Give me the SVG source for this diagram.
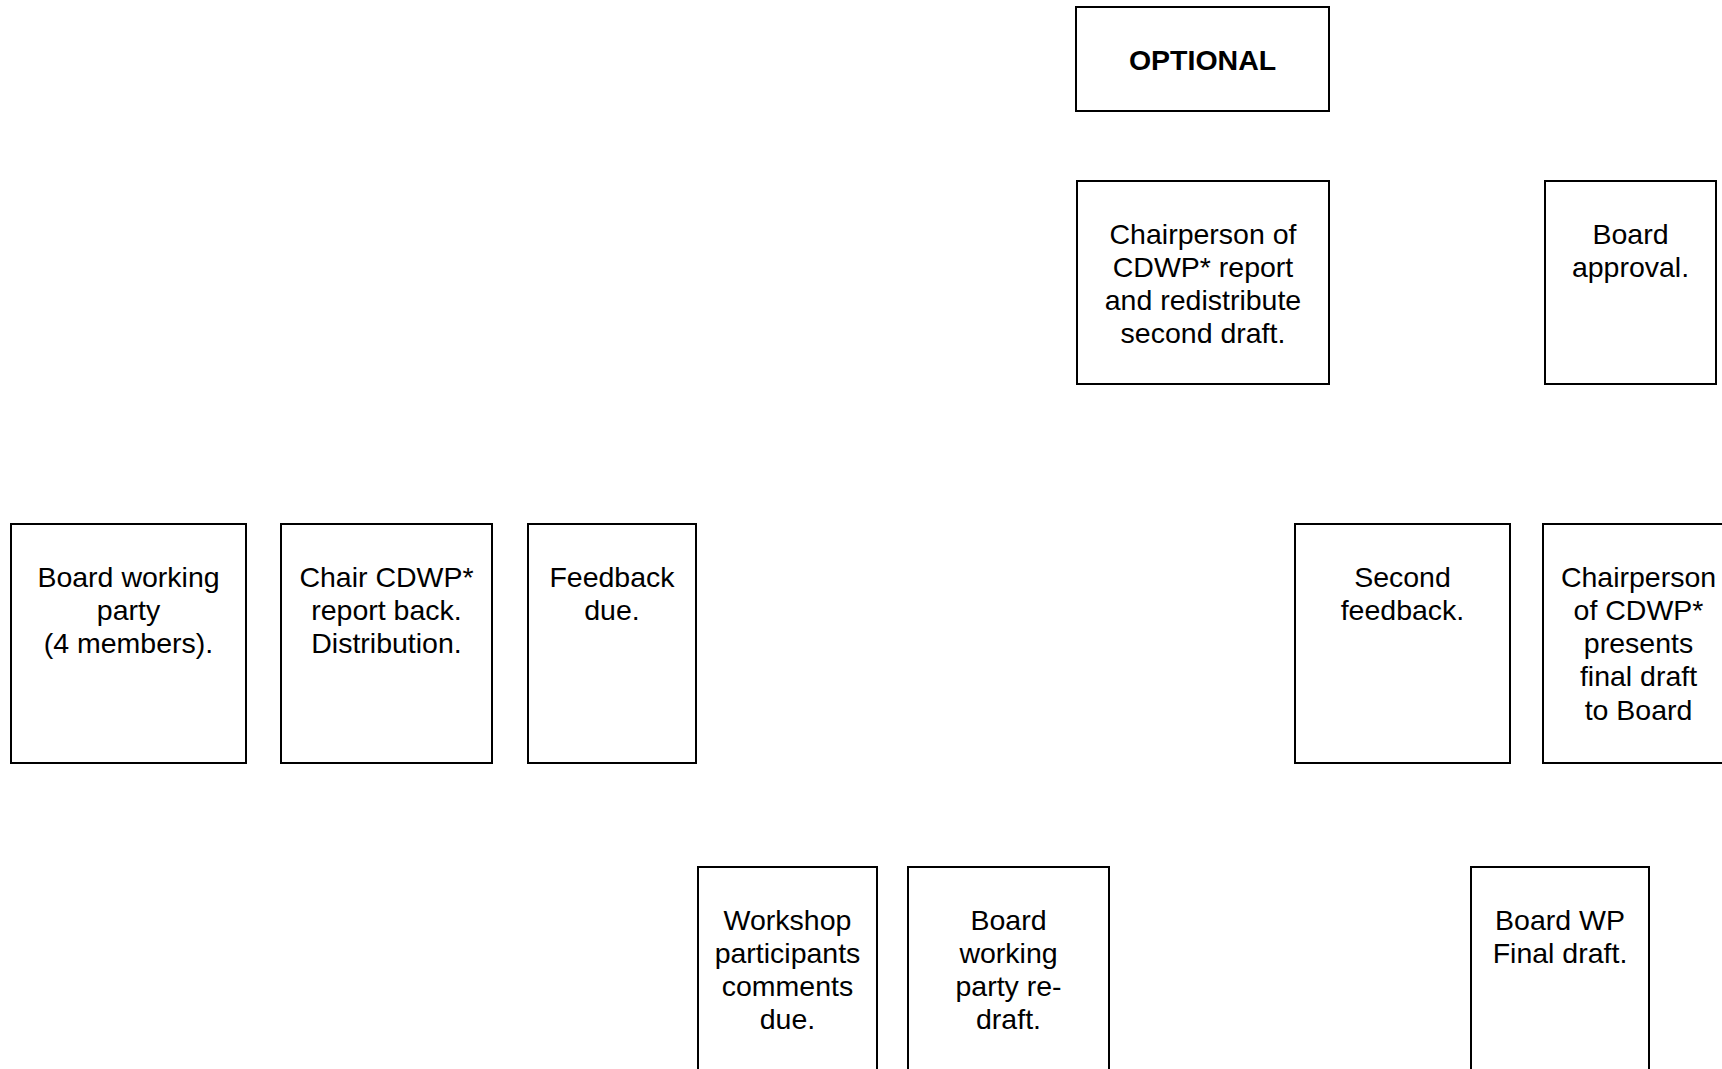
<svg xmlns="http://www.w3.org/2000/svg" width="1722" height="1069" viewBox="0 0 1722 1069">
<style>
.box{fill:#fff;stroke:#000;stroke-width:2}
.t{font-family:"Liberation Sans",Arial,sans-serif;font-size:28.5px;fill:#000;text-anchor:middle}
.b{font-weight:bold}
</style>
<rect width="1722" height="1069" fill="#fff"/>
<g id="connectors"></g>
<g id="optional">
<rect class="box" x="1076" y="7" width="253" height="104"/>
<text class="t b" x="1202.5" y="70">OPTIONAL</text>
</g>
<g id="chair-report">
<rect class="box" x="1077" y="181" width="252" height="203"/>
<text class="t" x="1203"><tspan x="1203" y="243.5">Chairperson of</tspan><tspan x="1203" y="276.8">CDWP* report</tspan><tspan x="1203" y="310.1">and redistribute</tspan><tspan x="1203" y="343.4">second draft.</tspan></text>
</g>
<g id="board-approval">
<rect class="box" x="1545" y="181" width="171" height="203"/>
<text class="t"><tspan x="1630.5" y="243.5">Board</tspan><tspan x="1630.5" y="276.8">approval.</tspan></text>
</g>
<g id="board-wp">
<rect class="box" x="11" y="524" width="235" height="239"/>
<text class="t"><tspan x="128.5" y="586.5">Board working</tspan><tspan x="128.5" y="619.8">party</tspan><tspan x="128.5" y="653.1">(4 members).</tspan></text>
</g>
<g id="chair-cdwp">
<rect class="box" x="281" y="524" width="211" height="239"/>
<text class="t"><tspan x="386.5" y="586.5">Chair CDWP*</tspan><tspan x="386.5" y="619.8">report back.</tspan><tspan x="386.5" y="653.1">Distribution.</tspan></text>
</g>
<g id="feedback">
<rect class="box" x="528" y="524" width="168" height="239"/>
<text class="t"><tspan x="612" y="586.5">Feedback</tspan><tspan x="612" y="619.8">due.</tspan></text>
</g>
<g id="second-feedback">
<rect class="box" x="1295" y="524" width="215" height="239"/>
<text class="t"><tspan x="1402.5" y="586.5">Second</tspan><tspan x="1402.5" y="619.8">feedback.</tspan></text>
</g>
<g id="presents">
<rect class="box" x="1543" y="524" width="192" height="239"/>
<text class="t"><tspan x="1638.5" y="586.5">Chairperson</tspan><tspan x="1638.5" y="619.8">of CDWP*</tspan><tspan x="1638.5" y="653.1">presents</tspan><tspan x="1638.5" y="686.4">final draft</tspan><tspan x="1638.5" y="719.7">to Board</tspan></text>
</g>
<g id="workshop">
<rect class="box" x="698" y="867" width="179" height="220"/>
<text class="t"><tspan x="787.5" y="929.5">Workshop</tspan><tspan x="787.5" y="962.8">participants</tspan><tspan x="787.5" y="996.1">comments</tspan><tspan x="787.5" y="1029.4">due.</tspan></text>
</g>
<g id="redraft">
<rect class="box" x="908" y="867" width="201" height="220"/>
<text class="t"><tspan x="1008.5" y="929.5">Board</tspan><tspan x="1008.5" y="962.8">working</tspan><tspan x="1008.5" y="996.1">party re-</tspan><tspan x="1008.5" y="1029.4">draft.</tspan></text>
</g>
<g id="final-draft">
<rect class="box" x="1471" y="867" width="178" height="220"/>
<text class="t"><tspan x="1560" y="929.5">Board WP</tspan><tspan x="1560" y="962.8">Final draft.</tspan></text>
</g>
</svg>
